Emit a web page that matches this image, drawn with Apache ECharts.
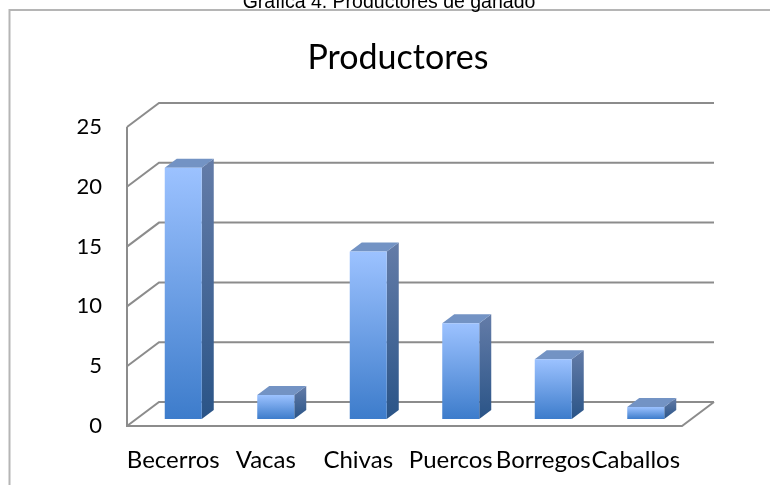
<!DOCTYPE html>
<html>
<head>
<meta charset="utf-8">
<style>html,body{margin:0;padding:0;background:#fff}#c{width:770px;height:485px}</style>
<script src="https://cdn.jsdelivr.net/npm/echarts@6/dist/echarts.min.js"></script>
</head>
<body>
<div id="c"></div>
<script>
const categories = ['Becerros', 'Vacas', 'Chivas', 'Puercos', 'Borregos', 'Caballos'];
const values = [21, 2, 14, 8, 5, 1];
const yTicks = [0, 5, 10, 15, 20, 25];
const captionText = 'Gráfica 4. Productores de ganado';
const titleText = 'Productores';

const font = 'Lato';
const wallDX = 32, wallDY = -24;
const barDX = 12, barDY = -9, barW = 37, barInsetY = 7, barShift = 10;
const grey = '#8c8c8c';

function grad(a, b) {
  return new echarts.graphic.LinearGradient(0, 0, 0, 1, [{offset: 0, color: a}, {offset: 1, color: b}]);
}

const chart = echarts.init(document.getElementById('c'), null, {renderer: 'canvas'});
chart.setOption({
  animation: false,
  backgroundColor: '#fff',
  title: [
    {text: captionText, left: 384, textAlign: 'center', top: -12,
     textStyle: {fontFamily: 'Liberation Sans', fontSize: 19.5, fontWeight: 'normal', color: '#000'}},
    {text: titleText, left: 393, textAlign: 'center', top: 36,
     textStyle: {fontFamily: font, fontSize: 34, fontWeight: 'normal', color: '#000'}}
  ],
  graphic: [{type: 'rect', shape: {x: 9.5, y: 10, width: 790, height: 490},
             style: {fill: 'none', stroke: '#b5b5b5', lineWidth: 2}, z: -1}],
  grid: {left: 127, right: 88, top: 127, height: 299},
  xAxis: {
    type: 'category', data: categories,
    axisLine: {show: false}, axisTick: {show: false},
    axisLabel: {interval: 0, margin: 22, fontFamily: font, fontSize: 24, color: '#000', hideOverlap: false}
  },
  yAxis: {
    type: 'value', min: 0, max: 25, interval: 5,
    axisLine: {show: false}, axisTick: {show: false}, splitLine: {show: false},
    axisLabel: {margin: 25, fontFamily: font, fontSize: 22, color: '#000', padding: [4, 0, 0, 0]}
  },
  series: [
    {
      type: 'custom', coordinateSystem: 'cartesian2d', silent: true, z: 1,
      data: yTicks.map(v => [0, v]),
      encode: {x: -1, y: 1},
      renderItem(params, api) {
        const v = api.value(1);
        const g = params.coordSys;
        const y = api.coord([0, v])[1];
        const x0 = g.x, x1 = g.x + g.width;
        const line = pts => ({type: 'polyline', shape: {points: pts},
          style: {fill: null, stroke: grey, lineWidth: 2}});
        const kids = [line([[x0, y], [x0 + wallDX, y + wallDY], [x1 + wallDX, y + wallDY]])];
        if (v === 0) {
          kids.push(line([[x0, g.y], [x0, y], [x1, y], [x1 + wallDX, y + wallDY]]));
        }
        return {type: 'group', children: kids};
      }
    },
    {
      type: 'custom', coordinateSystem: 'cartesian2d', silent: true, z: 2,
      data: values.map((v, i) => [i, v]),
      renderItem(params, api) {
        const p = api.coord([api.value(0), api.value(1)]);
        const b = api.coord([api.value(0), 0]);
        const l = p[0] + barShift - barW / 2, r = l + barW;
        const top = p[1] - barInsetY + 7 - barInsetY, bot = b[1] - barInsetY;
        const poly = (pts, fill) => ({type: 'polygon', shape: {points: pts}, style: {fill}});
        return {type: 'group', children: [
          poly([[r, top], [r + barDX, top + barDY], [r + barDX, bot + barDY], [r, bot]], grad('#647CA8', '#2A5487')),
          poly([[l, top], [l + barDX, top + barDY], [r + barDX, top + barDY], [r, top]], '#7393C4'),
          poly([[l, top], [r, top], [r, bot], [l, bot]], grad('#9CC2FF', '#3D7CCB'))
        ]};
      }
    }
  ]
});
</script>
</body>
</html>
